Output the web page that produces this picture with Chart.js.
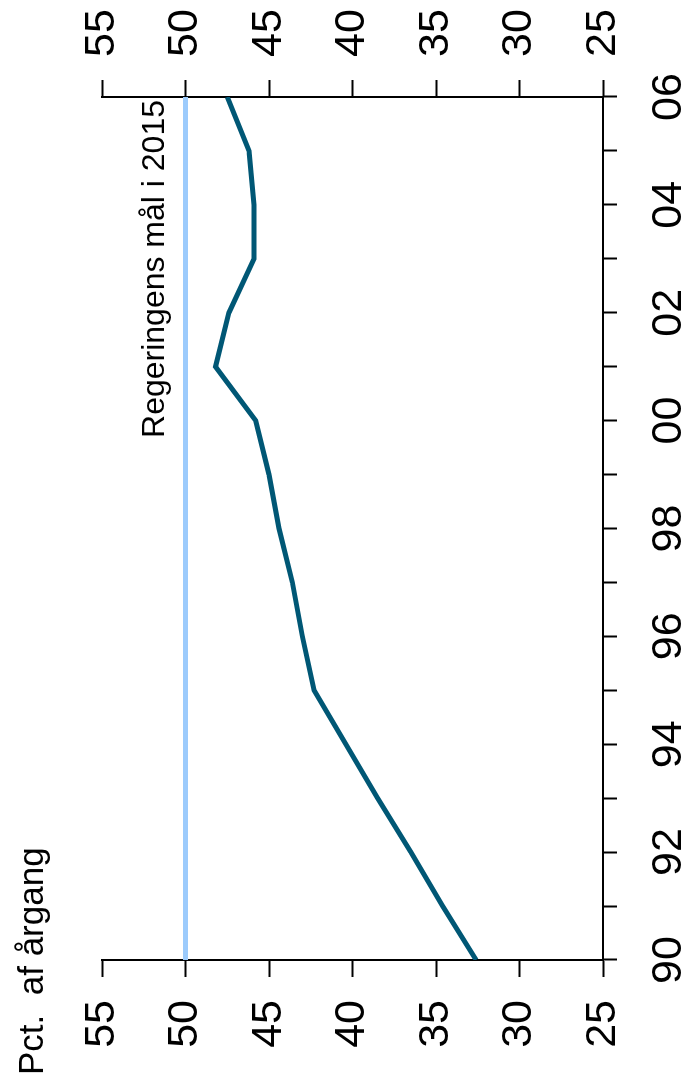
<!DOCTYPE html>
<html>
<head>
<meta charset="utf-8">
<script src="https://cdn.jsdelivr.net/npm/chart.js@4/dist/chart.umd.min.js"></script>
<style>
  html, body { margin: 0; padding: 0; background: #fff; overflow: hidden; }
  body { width: 685px; height: 1088px; position: relative; }
  /* chart is drawn landscape and turned a quarter left, like the printed figure */
  #wrap { position: absolute; left: 0; top: 0; width: 1088px; height: 685px;
          transform-origin: top left; transform: translate(0, 1088px) rotate(-90deg); }
</style>
</head>
<body>
<div id="wrap"><canvas id="chart" width="1088" height="685"></canvas></div>
<script>
// Share of a year group (pct.), 1990-2006
const years = [1990, 1991, 1992, 1993, 1994, 1995, 1996, 1997, 1998, 1999, 2000, 2001, 2002, 2003, 2004, 2005, 2006];
const share = [32.6, 34.6, 36.5, 38.5, 40.4, 42.3, 43.0, 43.6, 44.4, 45.0, 45.8, 48.2, 47.4, 45.9, 45.9, 46.2, 47.5];
// Government target for 2015
const goalYears = [1990, 2006];
const goalValue = [50, 50];
const valueTicks = [25, 30, 35, 40, 45, 50, 55];

const titleText = "Pct.  af årgang";
const goalText = "Regeringens mål i 2015";
const FONT = "'Liberation Sans', Arial, Helvetica, sans-serif";

const textPlugin = {
    id: 'texts',
    afterDraw(chart) {
        const { ctx, chartArea, scales } = chart;
        ctx.save();
        ctx.fillStyle = '#000';
        ctx.textBaseline = 'alphabetic';
        ctx.font = `35px ${FONT}`;
        ctx.textAlign = 'left';
        ctx.fillText(titleText, 13, 43);
        ctx.font = `32px ${FONT}`;
        ctx.textAlign = 'right';
        ctx.fillText(goalText, chartArea.right - 3, scales.y.getPixelForValue(goalValue[0]) - 22);
        ctx.restore();
    }
};

const axisGrid = (len) => ({ drawOnChartArea: false, drawTicks: true, tickLength: len, tickWidth: 2, tickColor: '#000' });
const axisBorder = { display: true, color: '#000', width: 2 };
const yTicks = { font: { family: FONT, size: 43 }, color: '#000', padding: 23, autoSkip: false, stepSize: 5 };

new Chart(document.getElementById('chart'), {
    type: 'line',
    data: {
        datasets: [
            { data: goalYears.map((x, i) => ({ x, y: goalValue[i] })), borderColor: '#9ccbfc', borderWidth: 5, pointRadius: 0, order: 2 },
            { data: years.map((x, i) => ({ x, y: share[i] })), borderColor: '#005775', borderWidth: 5, pointRadius: 0, borderJoinStyle: 'miter', order: 1 }
        ]
    },
    options: {
        responsive: false, animation: false, devicePixelRatio: 1,
        layout: { padding: { top: 102, left: 0, right: 0, bottom: 0 } },
        plugins: { legend: { display: false }, title: { display: false }, tooltip: { enabled: false } },
        scales: {
            x: {
                type: 'linear', min: 1990, max: 2006,
                grid: axisGrid(14), border: axisBorder,
                afterFit: (s) => { s.height = 82; },
                ticks: {
                    stepSize: 1, autoSkip: false, maxRotation: 0, padding: 26, color: '#000',
                    font: { family: FONT, size: 43 },
                    callback: (v) => (v % 2 === 0 ? String(v).slice(2) : '')
                }
            },
            y: {
                position: 'left', min: 25, max: 55,
                grid: axisGrid(17), border: axisBorder, ticks: yTicks,
                afterFit: (s) => { s.width = 128; },
                afterBuildTicks: (s) => { s.ticks = valueTicks.map(v => ({ value: v })); }
            },
            y2: {
                position: 'right', min: 25, max: 55,
                grid: axisGrid(17), border: axisBorder, ticks: yTicks,
                afterFit: (s) => { s.width = 97; },
                afterBuildTicks: (s) => { s.ticks = valueTicks.map(v => ({ value: v })); }
            }
        }
    },
    plugins: [textPlugin]
});
</script>
</body>
</html>
